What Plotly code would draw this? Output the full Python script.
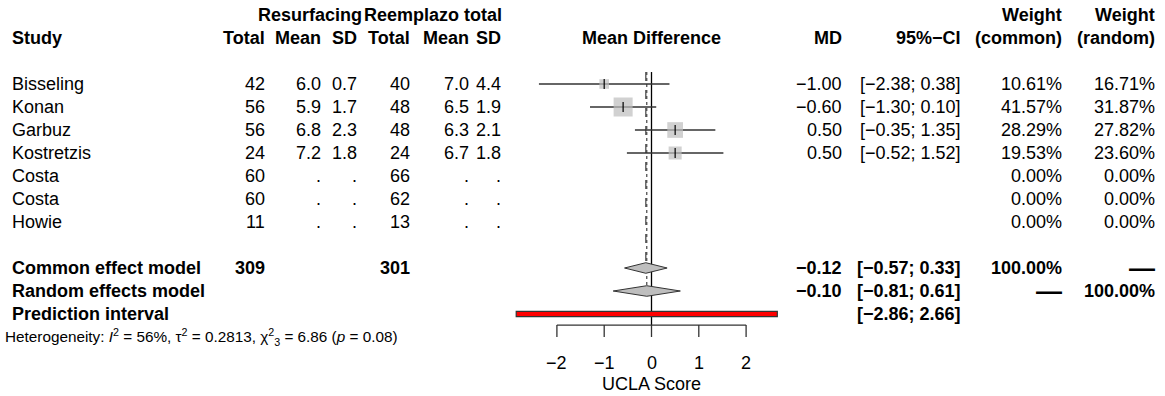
import math
import plotly.graph_objects as go

# ---------------- data ----------------
studies = ["Bisseling", "Konan", "Garbuz", "Kostretzis", "Costa", "Costa", "Howie"]
n_e = [42, 56, 56, 24, 60, 60, 11]
mean_e = [6.0, 5.9, 6.8, 7.2, None, None, None]
sd_e = [0.7, 1.7, 2.3, 1.8, None, None, None]
n_c = [40, 48, 48, 24, 66, 62, 13]
mean_c = [7.0, 6.5, 6.3, 6.7, None, None, None]
sd_c = [4.4, 1.9, 2.1, 1.8, None, None, None]
md = [-1.00, -0.60, 0.50, 0.50, None, None, None]
ci_lo = [-2.38, -1.30, -0.35, -0.52, None, None, None]
ci_hi = [0.38, 0.10, 1.35, 1.52, None, None, None]
w_common = [10.61, 41.57, 28.29, 19.53, 0.00, 0.00, 0.00]
w_random = [16.71, 31.87, 27.82, 23.60, 0.00, 0.00, 0.00]
total_e = 309
total_c = 301
common_est, common_lo, common_hi = -0.12, -0.57, 0.33
random_est, random_lo, random_hi = -0.10, -0.81, 0.61
pred_lo, pred_hi = -2.86, 2.66
het_text = ("Heterogeneity: <i>I</i><sup>2</sup> = 56%, τ<sup>2</sup> = 0.2813, "
            "χ<sup>2</sup><sub>3</sub> = 6.86 (<i>p</i> = 0.08)")
x_ticks = [-2, -1, 0, 1, 2]
x_label = "UCLA Score"

# ---------------- layout helpers ----------------
W, H = 1165, 396
FONT = "Liberation Sans, Arial, Helvetica, sans-serif"
FS = 18
ROW0_PX, ROW_PX = 15.0, 23.0
ZERO_PX, UNIT_PX = 651.5, 47.3

row_study0 = 3
row_common = 11
row_random = 12
row_pred = 13
row_het = 14
row_axis = 13.48
row_tick_end = 14.0
row_ticklab = 15.15
row_xlab = 16.05

def fmt(v, d=1):
    s = f"{v:.{d}f}"
    return s.replace("-", "−")

fig = go.Figure()
ann = []

def txt(xpx, row, text, anchor="right", bold=False, size=FS):
    ann.append(dict(x=xpx / W, xref="paper", y=row, yref="y", text=(f"<b>{text}</b>" if bold else text),
                    xanchor=anchor, yanchor="middle", showarrow=False,
                    font=dict(family=FONT, size=size, color="black")))

col_x = {"te": 267, "me": 323, "se": 359, "tc": 412, "mc": 471, "sc": 503,
         "md": 844, "ci": 963, "wc": 1064, "wr": 1157}

# headers
txt(364, 0, "Resurfacing", bold=True)
txt(504, 0, "Reemplazo total", bold=True)
txt(10, 1, "Study", anchor="left", bold=True)
txt(col_x["te"], 1, "Total", bold=True)
txt(col_x["me"], 1, "Mean", bold=True)
txt(col_x["se"], 1, "SD", bold=True)
txt(col_x["tc"], 1, "Total", bold=True)
txt(col_x["mc"], 1, "Mean", bold=True)
txt(col_x["sc"], 1, "SD", bold=True)
ann.append(dict(x=0, xref="x", y=1, yref="y", text="<b>Mean Difference</b>", xanchor="center",
                yanchor="middle", showarrow=False, font=dict(family=FONT, size=FS, color="black")))
txt(col_x["md"], 1, "MD", bold=True)
txt(col_x["ci"], 1, "95%−CI", bold=True)
txt(col_x["wc"], 0, "Weight", bold=True)
txt(col_x["wc"], 1, "(common)", bold=True)
txt(col_x["wr"], 0, "Weight", bold=True)
txt(col_x["wr"], 1, "(random)", bold=True)

# study rows
for i, s in enumerate(studies):
    r = row_study0 + i
    txt(10, r, s, anchor="left")
    txt(col_x["te"], r, str(n_e[i]))
    txt(col_x["me"], r, fmt(mean_e[i]) if mean_e[i] is not None else ".")
    txt(col_x["se"], r, fmt(sd_e[i]) if sd_e[i] is not None else ".")
    txt(col_x["tc"], r, str(n_c[i]))
    txt(col_x["mc"], r, fmt(mean_c[i]) if mean_c[i] is not None else ".")
    txt(col_x["sc"], r, fmt(sd_c[i]) if sd_c[i] is not None else ".")
    if md[i] is not None:
        txt(col_x["md"], r, fmt(md[i], 2))
        txt(col_x["ci"], r, f"[{fmt(ci_lo[i], 2)}; {fmt(ci_hi[i], 2)}]")
    txt(col_x["wc"], r, f"{w_common[i]:.2f}%")
    txt(col_x["wr"], r, f"{w_random[i]:.2f}%")

# summary rows
txt(10, row_common, "Common effect model", anchor="left", bold=True)
txt(col_x["te"], row_common, str(total_e), bold=True)
txt(col_x["tc"], row_common, str(total_c), bold=True)
txt(col_x["md"], row_common, fmt(common_est, 2), bold=True)
txt(col_x["ci"], row_common, f"[{fmt(common_lo, 2)}; {fmt(common_hi, 2)}]", bold=True)
txt(col_x["wc"], row_common, "100.00%", bold=True)
txt(col_x["wr"], row_common, "—", bold=True, size=26)

txt(10, row_random, "Random effects model", anchor="left", bold=True)
txt(col_x["md"], row_random, fmt(random_est, 2), bold=True)
txt(col_x["ci"], row_random, f"[{fmt(random_lo, 2)}; {fmt(random_hi, 2)}]", bold=True)
txt(col_x["wc"], row_random, "—", bold=True, size=26)
txt(col_x["wr"], row_random, "100.00%", bold=True)

txt(10, row_pred, "Prediction interval", anchor="left", bold=True)
txt(col_x["ci"], row_pred, f"[{fmt(pred_lo, 2)}; {fmt(pred_hi, 2)}]", bold=True)

txt(3, row_het, het_text, anchor="left", size=15.3)

# ---------------- forest graphics ----------------
shapes = []
top_row = 2.48
dh = 0.23
# null line
shapes.append(dict(type="line", xref="x", yref="y", x0=0, x1=0, y0=top_row, y1=row_axis,
                   line=dict(color="black", width=1.3), layer="below"))
# common (dashed) and random (dotted) lines
shapes.append(dict(type="line", xref="x", yref="y", x0=common_est, x1=common_est, y0=top_row,
                   y1=row_common - dh, line=dict(color="#444", width=1.2, dash="dash"), layer="below"))
shapes.append(dict(type="line", xref="x", yref="y", x0=random_est, x1=random_est, y0=top_row,
                   y1=row_random - dh, line=dict(color="#444", width=1.2, dash="dot"), layer="below"))

# CI lines
cx, cy = [], []
for i in range(len(studies)):
    if md[i] is None:
        continue
    r = row_study0 + i
    cx += [ci_lo[i], ci_hi[i], None]
    cy += [r, r, None]
fig.add_trace(go.Scatter(x=cx, y=cy, mode="lines", line=dict(color="#333333", width=1.3),
                         hoverinfo="skip", showlegend=False))

# squares
sx, sy, ss = [], [], []
for i in range(len(studies)):
    if md[i] is None:
        continue
    sx.append(md[i]); sy.append(row_study0 + i); ss.append(2.95 * math.sqrt(w_common[i]))
fig.add_trace(go.Scatter(x=sx, y=sy, mode="markers",
                         marker=dict(symbol="square", size=ss, color="#BEBEBE", line=dict(width=0)),
                         hoverinfo="skip", showlegend=False))
fig.add_trace(go.Scatter(x=sx, y=sy, mode="markers",
                         marker=dict(symbol="line-ns", size=7, line=dict(color="black", width=1.2)),
                         hoverinfo="skip", showlegend=False))

# diamonds
for est, lo, hi, r in [(common_est, common_lo, common_hi, row_common),
                       (random_est, random_lo, random_hi, row_random)]:
    fig.add_trace(go.Scatter(x=[lo, est, hi, est, lo], y=[r, r - dh, r, r + dh, r], mode="lines",
                             fill="toself", fillcolor="#BEBEBE", line=dict(color="#333", width=1),
                             hoverinfo="skip", showlegend=False))

# prediction interval bar
shapes.append(dict(type="rect", xref="x", yref="y", x0=pred_lo, x1=pred_hi,
                   y0=row_pred - 0.11, y1=row_pred + 0.11,
                   fillcolor="#FF0000", line=dict(color="#333", width=1.2)))

# axis
shapes.append(dict(type="line", xref="x", yref="y", x0=x_ticks[0], x1=x_ticks[-1], y0=row_axis,
                   y1=row_axis, line=dict(color="#333", width=1.3)))
for t in x_ticks:
    shapes.append(dict(type="line", xref="x", yref="y", x0=t, x1=t, y0=row_axis, y1=row_tick_end,
                       line=dict(color="#333", width=1.3)))
    ann.append(dict(x=t, xref="x", y=row_ticklab, yref="y", text=fmt(t, 0), xanchor="center",
                    yanchor="middle", showarrow=False, font=dict(family=FONT, size=FS, color="black")))
ann.append(dict(x=0, xref="x", y=row_xlab, yref="y", text=x_label, xanchor="center",
                yanchor="middle", showarrow=False, font=dict(family=FONT, size=FS, color="black")))

x0 = -ZERO_PX / UNIT_PX
x1 = (W - ZERO_PX) / UNIT_PX
y_top = -ROW0_PX / ROW_PX
y_bot = (H - ROW0_PX) / ROW_PX

fig.update_layout(
    width=W, height=H, margin=dict(l=0, r=0, t=0, b=0),
    paper_bgcolor="white", plot_bgcolor="white",
    xaxis=dict(range=[x0, x1], visible=False, fixedrange=True),
    yaxis=dict(range=[y_bot, y_top], visible=False, fixedrange=True),
    shapes=shapes, annotations=ann, showlegend=False,
)
fig.write_html("out.html", config={"displayModeBar": False},
               post_script="document.body.style.margin='0';document.body.style.overflow='hidden';")
